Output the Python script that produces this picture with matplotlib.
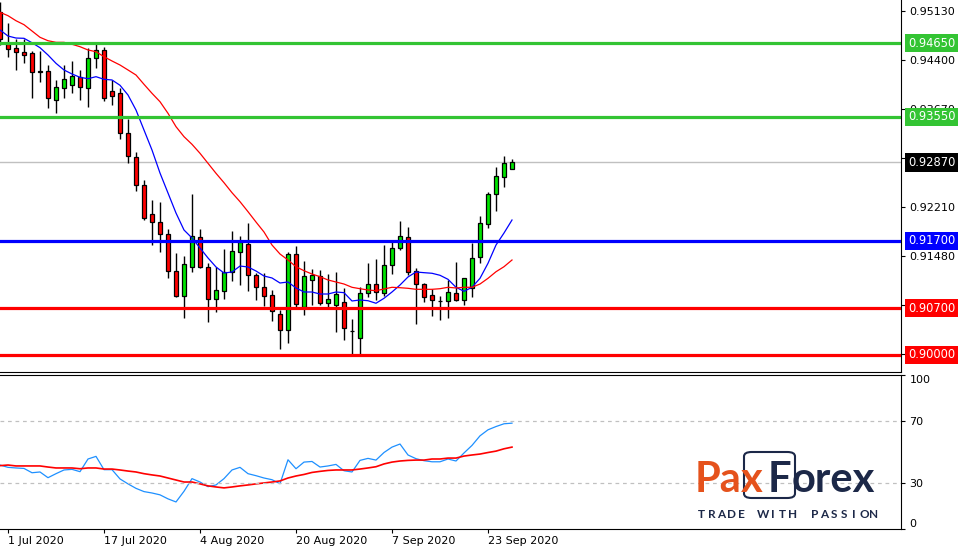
import numpy as np
import matplotlib.pyplot as plt
from matplotlib.patches import FancyBboxPatch
from matplotlib.transforms import blended_transform_factory

# daily candles, 30 Jun 2020 .. 28 Sep 2020
opens = [0.95112, 0.94635, 0.94571, 0.94516, 0.94501, 0.94228, 0.94233, 0.93796, 0.93975, 0.94020,
         0.94139, 0.93975, 0.94422, 0.94541, 0.93935, 0.93900, 0.93304, 0.92946, 0.92529, 0.92097,
         0.91978, 0.91799, 0.91247, 0.90875, 0.91307, 0.91754, 0.91307, 0.90830, 0.90949, 0.91233,
         0.91531, 0.91650, 0.91188, 0.91009, 0.90890, 0.90607, 0.90368, 0.91501, 0.90711, 0.91113,
         0.91173, 0.90771, 0.90741, 0.90785, 0.90365, 0.90249, 0.90920, 0.91054, 0.90920, 0.91337,
         0.91590, 0.91754, 0.91247, 0.91054, 0.90890, 0.90812, 0.90800, 0.90920, 0.90815, 0.90994,
         0.91456, 0.91948, 0.92395, 0.92648, 0.92768]
highs = [0.95261, 0.94953, 0.94710, 0.94705, 0.94531, 0.94535, 0.94322, 0.94099, 0.94322, 0.94382,
         0.94248, 0.94580, 0.94640, 0.94590, 0.94099, 0.93979, 0.93517, 0.93025, 0.92608, 0.92310,
         0.92280, 0.91878, 0.91520, 0.91475, 0.92400, 0.91878, 0.91367, 0.91316, 0.91580, 0.91848,
         0.91774, 0.91967, 0.91218, 0.91218, 0.90964, 0.90666, 0.91531, 0.91620, 0.91396, 0.91277,
         0.91262, 0.91203, 0.91233, 0.90994, 0.90532, 0.91009, 0.91367, 0.91431, 0.91635, 0.91680,
         0.91997, 0.91908, 0.91292, 0.91069, 0.90979, 0.90875, 0.91113, 0.91382, 0.91143, 0.91665,
         0.92067, 0.92425, 0.92797, 0.92961, 0.92917]
lows = [0.94620, 0.94446, 0.94248, 0.94356, 0.93835, 0.94073, 0.93686, 0.93611, 0.93835, 0.93909,
        0.93805, 0.93701, 0.94282, 0.93790, 0.93730, 0.93215, 0.92866, 0.92449, 0.92012, 0.91639,
        0.91540, 0.91152, 0.90870, 0.90556, 0.91241, 0.91292, 0.90496, 0.90645, 0.90830, 0.91107,
        0.91048, 0.90958, 0.90815, 0.90735, 0.90511, 0.90094, 0.90183, 0.90711, 0.90601, 0.90741,
        0.90741, 0.90711, 0.90347, 0.90228, 0.90015, 0.90015, 0.90860, 0.90815, 0.90875, 0.91203,
        0.91560, 0.91188, 0.90458, 0.90785, 0.90577, 0.90517, 0.90547, 0.90800, 0.90741, 0.90860,
        0.91367, 0.91888, 0.92142, 0.92499, 0.92765]
closes = [0.94710, 0.94565, 0.94511, 0.94467, 0.94213, 0.94222, 0.93835, 0.93990, 0.94109, 0.94154,
          0.93990, 0.94422, 0.94541, 0.93835, 0.93865, 0.93304, 0.92961, 0.92529, 0.92037, 0.91978,
          0.91799, 0.91247, 0.90875, 0.91352, 0.91769, 0.91307, 0.90830, 0.90964, 0.91233, 0.91546,
          0.91680, 0.91188, 0.91009, 0.90875, 0.90651, 0.90368, 0.91501, 0.90756, 0.91173, 0.91188,
          0.90771, 0.90830, 0.90905, 0.90398, 0.90360, 0.90920, 0.91054, 0.90934, 0.91337, 0.91590,
          0.91769, 0.91233, 0.91054, 0.90860, 0.90815, 0.90806, 0.90934, 0.90815, 0.91143, 0.91441,
          0.91963, 0.92395, 0.92663, 0.92857, 0.92870]

# moving averages (blue fast, red slow)
ma_fast = [0.94844, 0.94754, 0.94724, 0.94720, 0.94654, 0.94580, 0.94471, 0.94347, 0.94248, 0.94188,
           0.94139, 0.94118, 0.94148, 0.94109, 0.94099, 0.94020, 0.93875, 0.93651, 0.93353, 0.93055,
           0.92712, 0.92414, 0.92116, 0.91863, 0.91744, 0.91595, 0.91446, 0.91312, 0.91222, 0.91237,
           0.91326, 0.91312, 0.91252, 0.91177, 0.91148, 0.91073, 0.91088, 0.90999, 0.90939, 0.90939,
           0.90909, 0.90909, 0.90939, 0.90929, 0.90805, 0.90820, 0.90809, 0.90771, 0.90845, 0.90939,
           0.91043, 0.91163, 0.91237, 0.91227, 0.91218, 0.91188, 0.91128, 0.91009, 0.90949, 0.91009,
           0.91143, 0.91367, 0.91639, 0.91818, 0.92012]
ma_slow = [0.95108, 0.95057, 0.94982, 0.94923, 0.94829, 0.94735, 0.94684, 0.94660, 0.94660, 0.94631,
           0.94595, 0.94546, 0.94520, 0.94446, 0.94382, 0.94322, 0.94248, 0.94173, 0.94034, 0.93900,
           0.93775, 0.93602, 0.93403, 0.93254, 0.93140, 0.93006, 0.92857, 0.92708, 0.92568, 0.92419,
           0.92285, 0.92136, 0.91982, 0.91833, 0.91639, 0.91505, 0.91416, 0.91316, 0.91256, 0.91207,
           0.91167, 0.91118, 0.91088, 0.91058, 0.91009, 0.90988, 0.90969, 0.90958, 0.90984, 0.91009,
           0.91003, 0.90994, 0.90979, 0.90979, 0.90979, 0.90988, 0.91009, 0.90999, 0.91009, 0.91009,
           0.91058, 0.91143, 0.91241, 0.91316, 0.91416]

# RSI and its signal line
rsi = [41.6, 40.1, 39.7, 39.4, 36.6, 37.1, 33.4, 36.0, 38.4, 38.8,
       37.3, 45.5, 47.2, 38.6, 38.6, 32.6, 29.4, 26.5, 24.4, 23.5,
       22.3, 19.7, 17.7, 24.6, 32.8, 30.6, 27.6, 28.7, 32.8, 38.4,
       40.1, 36.0, 34.7, 33.2, 32.1, 29.5, 45.0, 39.2, 43.5, 43.9,
       40.3, 41.0, 42.0, 37.9, 37.1, 44.6, 45.9, 44.8, 49.7, 53.2,
       55.2, 48.1, 45.7, 44.4, 43.7, 43.7, 45.5, 44.2, 49.4, 54.3,
       60.5, 64.4, 66.5, 68.3, 68.7]
rsi_sig = [41.2, 41.6, 41.0, 41.0, 41.0, 41.0, 40.3, 39.7, 39.7, 39.7,
           39.2, 39.7, 39.7, 39.0, 39.0, 38.4, 37.7, 37.1, 36.0, 35.2,
           34.5, 33.2, 31.9, 30.6, 30.6, 29.4, 28.1, 27.4, 26.8, 27.4,
           28.1, 28.7, 29.4, 30.0, 30.6, 31.3, 33.2, 34.5, 35.5, 36.8,
           37.5, 38.1, 38.4, 38.4, 38.4, 39.0, 39.7, 40.5, 42.3, 43.5,
           44.2, 44.6, 44.8, 44.8, 45.5, 45.5, 46.1, 46.1, 47.4, 48.1,
           48.7, 49.7, 50.6, 52.1, 53.2]

support_res = [0.94650, 0.93550, 0.91700, 0.90700, 0.90000]
level_colors = ['#33c433', '#33c433', '#0000ff', '#ff0000', '#ff0000']
last_price = 0.92870
price_ticks = [0.95130, 0.94400, 0.93670, 0.92940, 0.92210, 0.91480, 0.90750, 0.90020]
date_pos = [1, 13, 25, 37, 49, 61]
date_labels = ['1 Jul 2020', '17 Jul 2020', '4 Aug 2020', '20 Aug 2020', '7 Sep 2020', '23 Sep 2020']

W, H = 965, 553
fig = plt.figure(figsize=(W / 100, H / 100), dpi=100)
ax = fig.add_axes([0, 1 - 372 / H, 901 / W, 372 / H])
ax2 = fig.add_axes([0, 1 - 529.3 / H, 901 / W, (529.3 - 374.5) / H])

x = np.arange(len(opens))
o = np.array(opens)
c = np.array(closes)

# candles
ax.vlines(x, lows, highs, color='black', lw=1, zorder=2)
up = c >= o
bottoms = np.minimum(o, c)
heights = np.maximum(np.abs(c - o), 0.00003)
ax.bar(x[up], heights[up], bottom=bottoms[up], width=0.62, color='#00e400',
       edgecolor='black', linewidth=0.9, zorder=3)
ax.bar(x[~up], heights[~up], bottom=bottoms[~up], width=0.62, color='#ff0000',
       edgecolor='black', linewidth=0.9, zorder=3)

ax.plot(x, ma_fast, color='#0000ff', lw=0.9, zorder=4)
ax.plot(x, ma_slow, color='#ff0000', lw=0.9, zorder=4)

ax.axhline(last_price, color='#c0c0c0', lw=1, zorder=1)
for lv, col in zip(support_res, level_colors):
    ax.axhline(lv, color=col, lw=2.3, zorder=5)

ax.set_xlim(0, 901 / 8)
ax.set_ylim(0.897466, 0.952909)
ax.yaxis.tick_right()
ax.set_yticks(price_ticks)
ax.set_yticklabels(['%.5f' % t for t in price_ticks])
ax.tick_params(axis='y', direction='out', length=3, pad=3, labelsize=8, colors='black')
ax.set_xticks([])
for s in ['top', 'left']:
    ax.spines[s].set_visible(False)

# price labels of the levels on the right scale
trans = blended_transform_factory(ax.transAxes, ax.transData)
for lv, col in zip(support_res + [last_price], level_colors + ['black']):
    ax.text(1 + 7 / 901, lv, '%.5f' % lv, transform=trans,
            color='white', fontsize=8.3, va='center', ha='left', clip_on=False, zorder=10,
            bbox=dict(facecolor=col, edgecolor='none', pad=1.9))

# RSI panel
ax2.plot(x, rsi, color='#1e90ff', lw=0.9)
ax2.plot(x, rsi_sig, color='#ff0000', lw=1.2)
for lv in [70, 30]:
    ax2.axhline(lv, color='#c0c0c0', lw=0.9, ls=(0, (3, 3)))
ax2.set_xlim(0, 901 / 8)
ax2.set_ylim(0.32, 100.19)
ax2.yaxis.tick_right()
ax2.set_yticks([100, 70, 30, 0])
ax2.set_yticklabels(['100', '70', '30', '0'])
ax2.tick_params(axis='y', direction='out', length=3, pad=3, labelsize=8)
ylabs = ax2.get_yticklabels()
ylabs[0].set_va('top')
ylabs[3].set_va('bottom')
ax2.spines['left'].set_visible(False)
ax2.set_xticks(date_pos)
ax2.set_xticklabels(date_labels, ha='left')
ax2.tick_params(axis='x', direction='out', length=3, pad=2, labelsize=8)

# watermark logo
orange = '#e5521c'
navy = '#1c2848'


def fx(px):
    return px / W


def fy(py):
    return 1 - py / H


box = FancyBboxPatch((fx(744), fy(498)), fx(795) - fx(744), fy(452) - fy(498),
                     boxstyle='round,pad=0,rounding_size=0.008', transform=fig.transFigure,
                     facecolor='none', edgecolor=navy, lw=1.5)
fig.patches.append(box)
logo_kw = dict(fontsize=30, fontweight='bold', family=['Lato', 'DejaVu Sans'], va='baseline')
fig.text(fx(695), fy(491.5), 'Pa', color=orange, **logo_kw)
fig.text(fx(741), fy(491.5), 'x', color=orange, **logo_kw)
fig.text(fx(768), fy(491.5), 'F', color=navy, **logo_kw)
fig.text(fx(792), fy(491.5), 'orex', color=navy, **logo_kw)

tagline = 'TRADE WITH PASSION'
cx = 701.5
for ch in tagline:
    if ch == ' ':
        cx += 12
        continue
    fig.text(fx(cx), fy(518), ch, color=navy, fontsize=8.5, fontweight='bold',
             family=['Lato', 'DejaVu Sans'], ha='center', va='baseline')
    cx += 9.9

fig.savefig('out.png', dpi=100)
